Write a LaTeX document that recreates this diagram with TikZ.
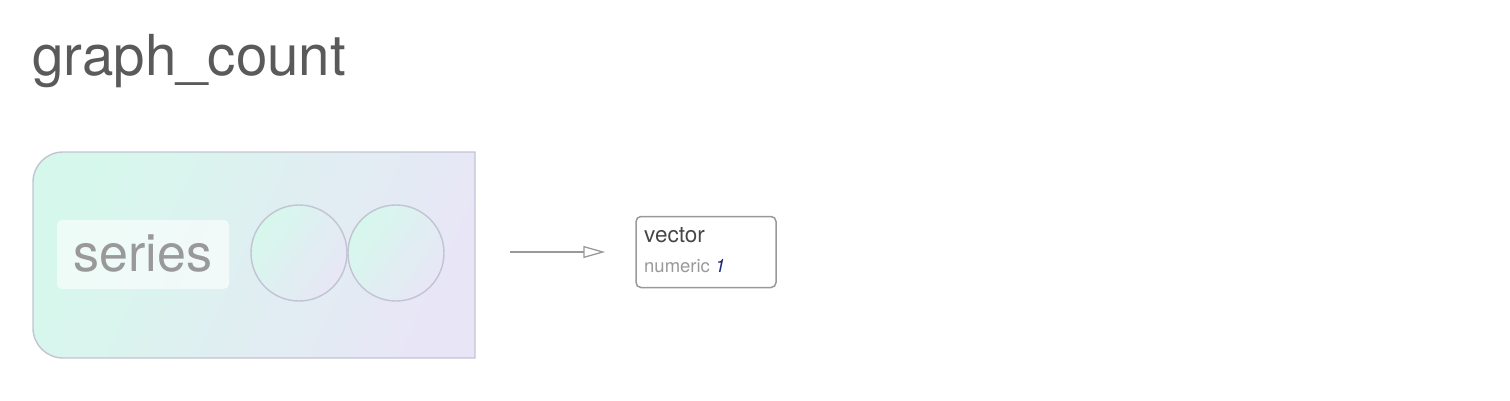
\documentclass[tikz,border=0pt]{standalone}
\usepackage{fontspec}
\setmainfont{TeX Gyre Heros}
\usetikzlibrary{arrows.meta}
\definecolor{mint}{HTML}{D6F8EC}
\definecolor{lav}{HTML}{E8E6F6}
\definecolor{edgec}{HTML}{C2C4D4}
\definecolor{titlec}{HTML}{5A5A5A}
\definecolor{greyt}{HTML}{999999}
\definecolor{numblue}{HTML}{1A2A70}
\tikzset{
  grp/.style={draw=edgec, line width=1.4pt, left color=mint, right color=lav, shading angle=65},
  lblbox/.style={fill=white, fill opacity=0.6, rounded corners=5pt, minimum width=172pt, minimum height=69pt, inner sep=0pt},
  circ/.style={circle, draw=edgec, line width=1.4pt, left color=mint, right color=lav, shading angle=55, minimum size=96pt, inner sep=0pt},
  conn/.style={draw=greyt, line width=1.3pt, shorten >=30pt, -{Triangle[open, length=22pt, width=12pt, line width=1.3pt]}},
  vbox/.style={draw=greyt, line width=1.5pt, rounded corners=5pt, minimum width=140pt, minimum height=71pt, inner sep=0pt}
}
\begin{document}
\begin{tikzpicture}[x=1pt,y=-1pt]
\useasboundingbox (0,0) rectangle (1510,400);
\node[anchor=base west, inner sep=0pt, text=titlec, font=\fontsize{56.5}{60}\selectfont] (title) at (32,75) {graph\_count};
\path[grp] (475,152) -- (63,152) arc[start angle=270, end angle=180, radius=30] -- (33,328) arc[start angle=180, end angle=90, radius=30] -- (475,358) -- cycle;
\node[lblbox] (lbl) at (143,254.5) {};
\node[anchor=base, inner sep=0pt, text=greyt, font=\fontsize{52}{56}\selectfont] (series) at (143,271) {series};
\node[circ] (c1) at (299,253) {};
\node[circ] (c2) at (396,253) {};
\coordinate (src) at (510,252);
\node[vbox] (vec) at (706,252) {};
\node[anchor=base west, inner sep=0pt, text=black!72, font=\fontsize{22.5}{26}\selectfont] (vt) at (644,242) {vector};
\node[anchor=base west, inner sep=0pt, text=greyt, font=\fontsize{18.5}{22}\selectfont] (nt) at (644,272) {numeric \textcolor{numblue}{\itshape 1}};
\draw[conn] (src) -- (vec.west);
\end{tikzpicture}
\end{document}
